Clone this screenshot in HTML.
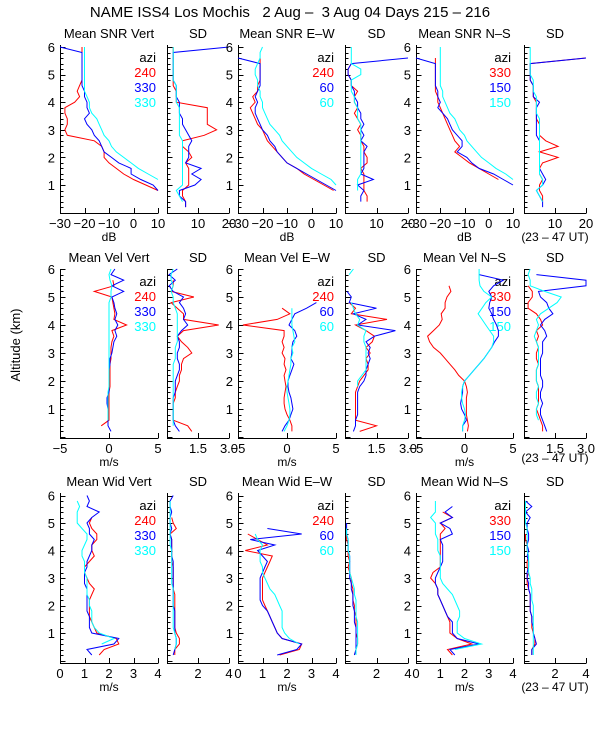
<!DOCTYPE html>
<html><head><meta charset="utf-8">
<style>
body{margin:0;background:#fff;}
svg{display:block;font-family:"Liberation Sans",sans-serif;}
</style></head>
<body>
<svg id="c" width="600" height="750" viewBox="0 0 600 750">
<text x="290" y="17" font-size="15" text-anchor="middle" xml:space="preserve">NAME ISS4 Los Mochis   2 Aug –  3 Aug 04 Days 215 – 216</text>
<text transform="translate(20,345) rotate(-90)" font-size="13" text-anchor="middle">Altitude (km)</text>
</svg>
<script>
const alts=[0.2,0.4,0.6,0.8,1.0,1.2,1.4,1.6,1.8,2.0,2.2,2.4,2.6,2.8,3.0,3.2,3.4,3.6,3.8,4.0,4.2,4.4,4.6,4.8,5.0,5.2,5.4,5.6,5.8,6.0];
const n=null;
// Row 1 SNR
const snrVertR=[n,n,n,10,5,0,-4,-7,-10,-12,-12,-13,-16,-27,-28,-27,-27,-28,-28,-24,-22,-23,-22,-21,-21,-21,-21,-21,-21,-21];
const snrVertB=[n,n,n,10,8,3,-1,-1,-6,-9,-12,-13,-14,-16,-17,-19,-20,-18,-19,-19,-20,-20,-21,-21,-21,-21,-21,-21,-21,-30];
const snrVertC=[n,n,n,n,n,10,6,2,-1,-4,-7,-9,-10,-12,-13,-14,-15,-17,-18,-18,-19,-20,-20,-20,-20,-20,-20,-20,-20,-20];
const snrVertSdR=[6,6,5,5,7,7,7,7,6,8,7,5,5,12,16,13,13,13,13,3,3,3,2,2,2,2,2,2,2,2];
const snrVertSdB=[6,6,4,4,9,11,8,11,6,7,7,7,8,7,6,5,5,4,4,4,3,3,3,2,2,2,2,2,2,20];
const snrVertSdC=[n,5,4,3,5,5,5,5,5,5,5,5,5,4,4,4,4,4,4,3,3,3,3,2,2,2,2,2,2,2];
const snrEwR=[n,n,n,9,5,1,-3,-6,-10,-12,-14,-16,-18,-19,-20,-22,-23,-24,-25,-23,-24,-22,-22,-21,-21,-21,-21,-21,n,n];
const snrEwB=[n,n,n,10,6,2,-2,-6,-10,-12,-14,-15,-17,-18,-20,-21,-22,-23,-23,-22,-23,-22,-21,-21,-21,-21,-21,-30,n,n];
const snrEwC=[n,n,n,n,10,8,4,0,-3,-6,-8,-10,-12,-13,-15,-17,-18,-19,-20,-20,-21,-21,-22,-22,-23,-23,-22,-21,-21,-20];
const snrEwSdR=[n,7,7,6,6,6,6,5,7,7,6,6,5,5,4,5,4,3,4,3,3,4,2,2,1,1,2,n,n,n];
const snrEwSdB=[n,5,5,6,4,9,5,6,6,6,6,7,5,6,5,6,5,5,4,4,3,3,2,2,1,1,2,20,n,n];
const snrEwSdC=[n,n,n,4,4,4,5,5,5,5,5,5,5,5,5,5,4,4,4,3,3,2,2,2,5,5,2,2,2,2];
const snrNsR=[n,n,n,n,n,4,0,-4,-8,-11,-14,-12,-14,-15,-16,-17,-18,-19,-20,-21,-21,-22,-22,-22,-22,-22,-22,-22,n,n];
const snrNsB=[n,n,n,n,10,6,2,-4,-7,-9,-13,-11,-11,-13,-15,-16,-17,-19,-21,-20,-21,-21,-22,-22,-22,-22,-22,-30,n,n];
const snrNsC=[n,n,n,n,n,10,7,3,0,-3,-5,-7,-9,-10,-12,-13,-14,-16,-17,-18,-19,-19,-20,-20,-20,-20,-20,-20,-20,-20];
const snrNsSdR=[n,6,6,5,5,6,5,5,6,11,5,11,7,5,5,5,4,4,4,4,3,3,3,2,2,2,2,20,n,n];
const snrNsSdB=[6,6,5,4,6,7,6,5,5,5,5,5,5,4,4,4,4,4,4,5,3,3,3,2,2,2,2,20,n,n];
const snrNsSdC=[n,6,5,4,6,6,5,5,5,5,5,5,5,5,5,5,5,4,4,4,4,3,3,3,2,2,2,2,2,2];
// Row 2 Velocity
const velVertR=[n,-0.8,0,0,0,0,0,0,0.1,0.1,0.1,0.1,0.1,0.2,0.2,0.2,0.3,0.5,0.3,1.8,0.5,0.6,0.5,0.4,0.3,-1.5,0.5,0.4,n,n];
const velVertB=[0.2,-0.1,-0.1,-0.1,-0.1,-0.2,-0.2,0,0,0,0,0,0.1,0.1,0.3,0.4,0.5,0.8,0.6,0.9,0.6,0.8,0.6,0.5,0.3,1.5,0.3,1.5,0.2,0.6];
const velVertC=[n,n,-0.1,-0.1,-0.1,-0.1,-0.1,-0.1,0,0,0,0,0,0,0,0,0,0,0,0,0,0,0,0,0.2,0.2,0.3,0.1,0,0.2];
const velVertSdR=[1.2,1.0,0.3,0.3,0.3,0.3,0.4,0.4,0.5,0.6,0.6,0.7,0.7,0.8,1.2,1.0,0.7,0.5,0.8,2.5,0.8,0.8,0.5,0.2,1.3,0.2,0.3,0.3,n,n];
const velVertSdB=[0.6,0.4,0.3,0.3,0.3,0.3,0.3,0.4,0.4,0.4,0.5,0.6,0.6,0.5,0.5,0.6,0.6,0.5,0.7,1.0,0.8,0.9,0.8,0.6,0.8,0.3,0.1,0.4,0.1,0.5];
const velVertSdC=[n,0.3,0.3,0.3,0.3,0.3,0.3,0.3,0.3,0.3,0.3,0.3,0.3,0.4,0.4,0.4,0.5,0.5,0.5,0.5,0.5,0.5,0.4,0.3,0.3,0.2,0.3,0.2,0.2,0.3];
const velEwR=[0.5,0.5,0.3,0,-0.2,-0.3,-0.3,-0.2,-0.1,-0.2,-0.3,-0.1,-0.3,-0.2,-0.5,-0.3,-0.5,-0.3,-0.3,-4.5,-1,0.3,-0.5,n,n,n,n,n,n,n];
const velEwB=[-0.5,-0.2,0.2,0.4,0.6,0.5,0.4,0.2,0.1,0.1,0.3,0.5,0.7,0.4,0.5,0.5,0.6,1.0,0.8,0.2,0.5,0.8,2.0,3.0,n,n,n,n,n,n];
const velEwC=[-0.3,0,0.2,0.3,0.3,0.2,0.1,0,0,0.1,0.2,0.3,0.4,0.4,0.6,0.5,0.8,0.7,0.6,0.5,0.5,0.5,0.5,n,n,n,n,n,2.5,n];
const velEwSdR=[0.7,1.5,0.5,0.5,0.5,0.5,0.5,0.5,0.6,0.7,0.9,1.1,1.1,1.0,1.2,1.0,1.3,1.4,1.0,0.5,2.0,0.3,0.5,0.2,n,n,n,n,n,n];
const velEwSdB=[0.4,0.5,0.5,0.6,0.6,0.6,0.6,0.6,0.7,0.9,1.0,1.0,1.1,1.2,1.1,1.2,1.0,1.4,2.4,0.6,1.0,0.4,1.5,0.2,0.3,0.1,n,n,n,n];
const velEwSdC=[n,n,n,n,n,n,n,n,0.6,0.6,0.8,1.0,1.0,1.0,1.0,1.0,0.9,0.9,1.0,0.6,0.7,0.5,0.4,0.3,n,n,n,n,0.2,0.4];
const velNsR=[0.3,0.4,0.3,0.2,0.2,0.2,0.2,0.3,0.2,0,-0.6,-1,-1.5,-2,-2.5,-3.2,-3.6,-3.8,-3.2,-2.6,-2.3,-2.4,-2,-2.0,-1.8,-1.4,-1.6,n,n,n];
const velNsB=[-0.2,-0.2,0.2,0,-0.3,-0.4,-0.3,-0.2,-0.2,0,0.5,1.0,1.5,2.0,2.4,2.8,3.1,3.5,3.5,3.3,3.0,2.8,2.5,2.6,2.8,2.5,3,4,1.5,n];
const velNsC=[-0.2,-0.2,0,0.1,0,-0.2,-0.3,-0.3,-0.2,0,0.5,1.0,1.5,2.0,2.4,2.8,3.0,3.0,2.6,2.2,1.8,1.4,1.8,2.2,2.8,2.0,1.6,1.5,1.5,1.5];
const velNsSdR=[0.9,0.9,0.8,0.7,0.6,0.7,0.7,0.7,0.7,0.6,0.6,0.6,0.7,0.6,0.6,0.7,0.6,0.7,0.6,0.9,0.8,0.6,0.2,0.2,0.4,0.4,0.2,n,n,n];
const velNsSdB=[1.1,1.0,0.9,0.8,0.8,0.9,0.8,0.8,0.9,0.9,0.8,0.8,0.8,0.8,0.9,0.9,0.9,1.1,1.0,0.8,1.0,1.4,1.2,1.1,0.8,0.7,3.0,3.0,0.6,n];
const velNsSdC=[n,n,0.7,0.6,0.6,0.7,0.6,0.6,0.7,0.6,0.6,0.6,0.7,0.7,0.7,0.7,0.6,0.5,0.6,0.7,0.6,0.8,1.2,1.6,1.8,1.0,0.3,0.3,0.2,0.3];
// Row 3 Width
const widVertR=[1.6,1.8,2.4,2.3,1.5,1.4,1.3,1.2,1.2,1.2,1.2,1.3,1.4,1.2,1.1,1.0,1.0,1.2,1.4,1.3,1.3,1.5,1.5,1.3,1.2,1.3,n,n,n,n];
const widVertB=[1.3,1.1,2.2,2.4,1.3,1.2,1.2,1.2,1.1,1.1,1.1,1.1,1.1,1.0,1.0,1.0,1.1,1.1,1.2,1.3,1.3,1.4,1.2,1.2,1.1,1.3,1.6,1.1,1.2,1.1];
const widVertC=[n,n,1.7,2.2,1.6,1.4,1.3,1.3,1.3,1.2,1.2,1.1,1.1,1.1,1.1,1.0,1.0,1.0,0.9,0.9,1.0,1.1,1.1,0.9,0.7,0.7,0.7,0.8,0.7,n];
const widVertSdR=[0.5,0.5,0.8,0.8,0.6,0.5,0.5,0.5,0.5,0.5,0.5,0.5,0.4,0.4,0.4,0.4,0.4,0.3,0.3,0.3,0.3,0.3,0.2,0.6,0.4,0.3,n,n,n,n];
const widVertSdB=[0.4,0.5,0.6,0.6,0.5,0.5,0.5,0.5,0.5,0.4,0.4,0.4,0.4,0.4,0.4,0.4,0.4,0.4,0.3,0.3,0.3,0.3,0.2,0.3,0.2,0.2,0.3,0.2,0.2,0.4];
const widVertSdC=[n,0.5,0.6,0.6,0.5,0.4,0.4,0.4,0.4,0.4,0.4,0.4,0.4,0.3,0.3,0.3,0.3,0.3,0.3,0.3,0.2,0.2,0.2,0.2,0.2,0.2,0.2,0.2,0.2,n];
const widEwR=[1.7,2.5,2.6,1.8,1.6,1.5,1.4,1.3,1.2,1.1,1.0,1.0,1.0,1.0,1.0,1.1,1.2,1.3,1.4,0.3,1.2,0.8,0.4,n,n,n,n,n,n,n];
const widEwB=[1.6,2.4,2.6,1.8,1.6,1.5,1.4,1.3,1.2,1.0,0.9,0.9,0.9,0.9,0.9,1.0,1.1,1.2,1.0,0.8,1.5,0.5,2.6,1.2,n,n,n,n,n,n];
const widEwC=[n,n,2.5,2.1,1.9,1.8,1.8,1.8,1.8,1.7,1.6,1.5,1.3,1.2,1.1,1.0,1.0,0.9,0.9,0.9,1.0,0.8,0.7,n,n,n,n,0.8,n,n];
const widEwSdR=[0.6,0.7,0.8,0.8,0.7,0.7,0.7,0.7,0.6,0.6,0.5,0.5,0.5,0.4,0.4,0.3,0.2,0.3,0.2,0.2,0.2,0.1,0.1,n,n,n,n,n,n,n];
const widEwSdB=[0.6,0.7,0.7,0.7,0.7,0.7,0.6,0.6,0.6,0.5,0.5,0.5,0.4,0.4,0.3,0.3,0.3,0.3,0.3,0.2,0.2,0.2,0.1,0.1,0.1,n,n,n,n,n];
const widEwSdC=[0.7,0.7,0.8,0.8,0.8,0.8,0.8,0.7,0.7,0.7,0.7,0.6,0.6,0.5,0.4,0.3,0.3,0.3,0.3,0.2,0.2,0.2,0.1,0.1,n,n,n,n,0.1,n];
const widNsR=[1.5,1.3,2.3,1.7,1.4,1.4,1.4,1.3,1.2,1.1,1.0,0.9,0.9,0.8,0.6,0.7,1.0,1.0,1.0,1.0,1.0,1.0,1.0,1.2,1.0,1.5,1.1,n,n,n];
const widNsB=[1.6,1.4,2.6,1.7,1.5,1.5,1.5,1.3,1.2,1.1,1.0,0.9,0.9,0.8,0.8,0.9,1.0,1.1,1.1,1.1,1.1,1.0,1.5,1.4,1.0,1.5,1.2,1.5,n,n];
const widNsC=[n,1.6,2.7,2.0,1.7,1.7,1.7,1.8,1.8,1.7,1.6,1.5,1.3,1.1,1.0,1.0,1.0,1.0,1.0,0.9,0.9,0.9,0.8,0.8,0.8,0.6,0.8,0.8,0.8,n];
const widNsSdR=[0.5,0.5,0.7,0.7,0.6,0.5,0.5,0.5,0.4,0.4,0.4,0.4,0.3,0.2,0.2,0.3,0.2,0.2,0.3,0.2,0.2,0.1,0.1,n,n,n,n,n,n,n];
const widNsSdB=[0.5,0.5,0.8,0.7,0.6,0.6,0.5,0.5,0.4,0.4,0.4,0.4,0.3,0.3,0.2,0.2,0.3,0.3,0.2,0.3,0.2,0.3,0.3,0.2,0.2,0.4,0.1,0.5,0.1,n];
const widNsSdC=[0.6,0.6,0.6,0.6,0.6,0.6,0.6,0.6,0.6,0.6,0.5,0.5,0.5,0.4,0.4,0.3,0.3,0.3,0.3,0.2,0.2,0.2,0.2,0.2,0.1,0.1,0.1,0.1,0.1,n];

const titles=[["Mean SNR Vert","SD","Mean SNR E–W","SD","Mean SNR N–S","SD"],
 ["Mean Vel Vert","SD","Mean Vel E–W","SD","Mean Vel N–S","SD"],
 ["Mean Wid Vert","SD","Mean Wid E–W","SD","Mean Wid N–S","SD"]];
const aziLabels=[["240","330","330"],["240","60","60"],["330","150","150"]];
const meanTicks=[[-30,-20,-10,0,10],[-5,0,5],[0,1,2,3,4]];
const meanTickLabels=[["−30","−20","−10","0","10"],["−5","0","5"],["0","1","2","3","4"]];
const sdTicks=[[10,20],[1.5,3.0],[2,4]];
const sdTickLabels=[["10","20"],["1.5","3.0"],["2","4"]];
const units=["dB","m/s","m/s"];
const series=[
 [[snrVertR,snrVertB,snrVertC],[snrVertSdR,snrVertSdB,snrVertSdC],[snrEwR,snrEwB,snrEwC],[snrEwSdR,snrEwSdB,snrEwSdC],[snrNsR,snrNsB,snrNsC],[snrNsSdR,snrNsSdB,snrNsSdC]],
 [[velVertR,velVertB,velVertC],[velVertSdR,velVertSdB,velVertSdC],[velEwR,velEwB,velEwC],[velEwSdR,velEwSdB,velEwSdC],[velNsR,velNsB,velNsC],[velNsSdR,velNsSdB,velNsSdC]],
 [[widVertR,widVertB,widVertC],[widVertSdR,widVertSdB,widVertSdC],[widEwR,widEwB,widEwC],[widEwSdR,widEwSdB,widEwSdC],[widNsR,widNsB,widNsC],[widNsSdR,widNsSdB,widNsSdC]]];

// layout (not data)
const colX=[[60,158],[167,229],[238,336],[345,408],[416,513],[524,586]];
const rowsG=[{top:45,bot:213,y0:212.6,k:27.6},{top:269,bot:438,y0:437,k:28},{top:493,bot:663,y0:660.5,k:27.5}];
const meanDom=[[-30,10],[-5,5],[0,4]];
const sdDom=[[0,20],[0,3],[0,4]];
const colors=["#ff0000","#0000ff","#00ffff"];
const names=["red","blue","cyan"];
const NS="http://www.w3.org/2000/svg";
const svg=document.getElementById('c');
function mk(tag,at,parent){const e=document.createElementNS(NS,tag);for(const k in at)e.setAttribute(k,at[k]);(parent||svg).appendChild(e);return e;}

for(let r=0;r<3;r++){
 const R=rowsG[r];
 const yS=a=>R.y0-a*R.k;
 for(let c=0;c<6;c++){
  const isMean=c%2===0;
  const dom=isMean?meanDom[r]:sdDom[r];
  const [x0,x1]=colX[c];
  const xS=v=>x0+(v-dom[0])/(dom[1]-dom[0])*(x1-x0);
  const g=mk('g',{});
  
  
  const ax=mk('path',{d:`M${x0+.5},${R.top}V${R.bot+.5}H${x1+.5}`,stroke:'#000','stroke-width':1,fill:'none'},g);
  
  
  let td='';
  for(let i=0;i<=60;i+=2){const a=i/10;const y=yS(a);if(y<R.top-0.5||y>R.bot)continue;const L=(i%10===0)?5:3;td+=`M${x0+.5},${Math.round(y)+.5}h${L}`;}
  const ticks=isMean?meanTicks[r]:sdTicks[r];
  ticks.forEach(v=>{td+=`M${Math.round(xS(v))+.5},${R.bot}v-5`;});
  const tk=mk('path',{d:td,stroke:'#000','stroke-width':1},g);
  
  
  if(isMean){
   for(let a=1;a<=6;a++){const y=yS(a);if(y<R.top-1)continue;
    const t=mk('text',{x:x0-5,y:y+5,'font-size':13,'text-anchor':'end'},g);t.textContent=a;
    
    }
  }
  const labs=isMean?meanTickLabels[r]:sdTickLabels[r];
  ticks.forEach((v,i)=>{const t=mk('text',{x:xS(v),y:R.bot+15,'font-size':13,'text-anchor':'middle'},g);t.textContent=labs[i];
   
   });
  if(isMean){const t=mk('text',{x:(x0+x1)/2,y:R.bot+28,'font-size':12,'text-anchor':'middle'},g);t.textContent=units[r];
   
   }
  const tt=mk('text',{x:(x0+x1)/2,y:R.top-7,'font-size':13,'text-anchor':'middle'},g);tt.textContent=titles[r][c];
  
  
  if(isMean){
   const lx=x1-2,ly=R.top+17;
   const t0=mk('text',{x:lx,y:ly,'font-size':13,'text-anchor':'end'},g);t0.textContent='azi';
   
   
   for(let s=0;s<3;s++){const t=mk('text',{x:lx,y:ly+15*(s+1),'font-size':13,'text-anchor':'end',fill:colors[s]},g);t.textContent=aziLabels[c/2][s];
    
    }
  }
  series[r][c].forEach((arr,s)=>{
   let d='',pen=false;
   arr.forEach((v,i)=>{if(v===null){pen=false;return;}const px=Math.max(x0,Math.min(x1,xS(v))).toFixed(1),py=yS(alts[i]).toFixed(1);d+=(pen?'L':'M')+px+','+py;pen=true;});
   const p=mk('path',{d:d,stroke:colors[s],'stroke-width':1,fill:'none'},g);
   
   
  });
 }
 const ut=mk('text',{x:555,y:R.bot+(r===1?24:28),'font-size':12,'text-anchor':'middle'});
 ut.textContent='(23 – 47 UT)';
 
 
}
</script>
</body></html>
